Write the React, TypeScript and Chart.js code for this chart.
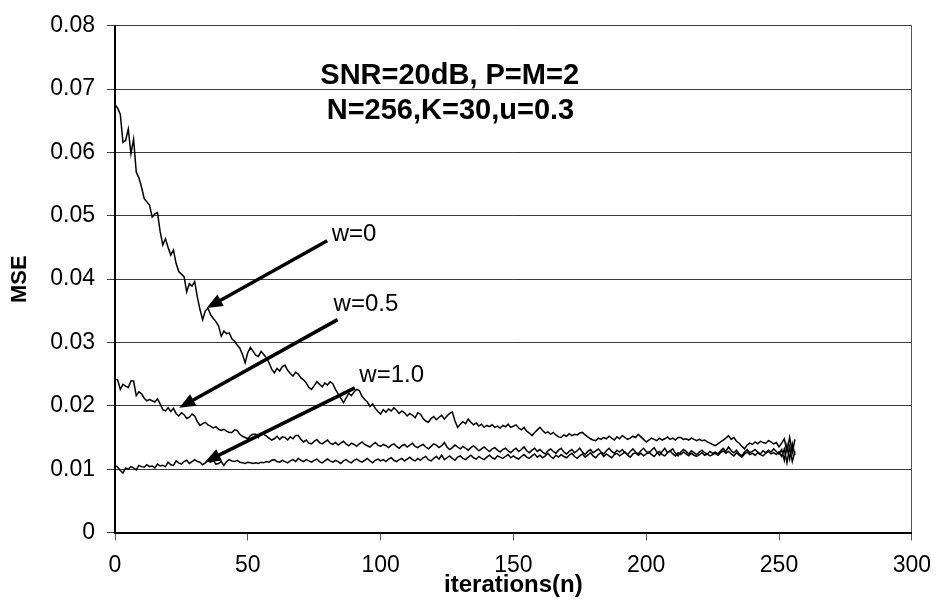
import { useEffect, useRef } from "react";
import { Chart, registerables } from "chart.js";

Chart.register(...registerables);

// iteration index n = 0 .. 256
const iterations: number[] = Array.from({ length: 257 }, (_, i) => i);

const mseW0: number[] = [
  0.0676, 0.0670, 0.0660, 0.0616, 0.0619, 0.0637, 0.0598, 0.0621, 0.0569, 0.0560,
  0.0545, 0.0527, 0.0522, 0.0517, 0.0498, 0.0503, 0.0505, 0.0475, 0.0454, 0.0464,
  0.0450, 0.0438, 0.0446, 0.0425, 0.0412, 0.0408, 0.0404, 0.0380, 0.0393, 0.0389,
  0.0396, 0.0372, 0.0352, 0.0336, 0.0350, 0.0354, 0.0344, 0.0338, 0.0333, 0.0326,
  0.0310, 0.0318, 0.0314, 0.0315, 0.0306, 0.0302, 0.0296, 0.0291, 0.0281, 0.0268,
  0.0284, 0.0292, 0.0286, 0.0280, 0.0278, 0.0286, 0.0281, 0.0276, 0.0268, 0.0258,
  0.0252, 0.0259, 0.0255, 0.0262, 0.0264, 0.0256, 0.0251, 0.0247, 0.0253, 0.0250,
  0.0244, 0.0241, 0.0236, 0.0229, 0.0226, 0.0232, 0.0238, 0.0234, 0.0230, 0.0236,
  0.0233, 0.0238, 0.0235, 0.0226, 0.0219, 0.0212, 0.0205, 0.0212, 0.0220, 0.0216,
  0.0222, 0.0226, 0.0224, 0.0215, 0.0210, 0.0206, 0.0199, 0.0203, 0.0196, 0.0191,
  0.0187, 0.0194, 0.0190, 0.0195, 0.0192, 0.0197, 0.0193, 0.0188, 0.0192, 0.0189,
  0.0184, 0.0188, 0.0185, 0.0181, 0.0189, 0.0187, 0.0180, 0.0176, 0.0174, 0.0180,
  0.0183, 0.0178, 0.0182, 0.0185, 0.0179, 0.0184, 0.0188, 0.0190, 0.0176, 0.0166,
  0.0171, 0.0175, 0.0172, 0.0179, 0.0174, 0.0170, 0.0173, 0.0168, 0.0171, 0.0166,
  0.0169, 0.0167, 0.0170, 0.0166, 0.0168, 0.0165, 0.0169, 0.0167, 0.0171, 0.0166,
  0.0168, 0.0170, 0.0165, 0.0162, 0.0166, 0.0160, 0.0157, 0.0153, 0.0158, 0.0162,
  0.0166, 0.0161, 0.0157, 0.0159, 0.0155, 0.0158, 0.0154, 0.0151, 0.0150, 0.0154,
  0.0152, 0.0156, 0.0153, 0.0155, 0.0154, 0.0157, 0.0158, 0.0154, 0.0151, 0.0148,
  0.0146, 0.0145, 0.0149, 0.0147, 0.0150, 0.0148, 0.0152, 0.0149, 0.0146, 0.0151,
  0.0148, 0.0153, 0.0150, 0.0147, 0.0149, 0.0152, 0.0150, 0.0155, 0.0151, 0.0147,
  0.0143, 0.0146, 0.0149, 0.0147, 0.0145, 0.0149, 0.0146, 0.0148, 0.0151, 0.0147,
  0.0149, 0.0146, 0.0150, 0.0150, 0.0147, 0.0148, 0.0146, 0.0149, 0.0147, 0.0145,
  0.0147, 0.0145, 0.0146, 0.0143, 0.0141, 0.0139, 0.0137, 0.0140, 0.0143, 0.0146,
  0.0149, 0.0153, 0.0147, 0.0150, 0.0144, 0.0141, 0.0136, 0.0132, 0.0138, 0.0141,
  0.0139, 0.0143, 0.0140, 0.0144, 0.0142, 0.0141, 0.0145, 0.0143, 0.0140, 0.0142,
  0.0135, 0.0141, 0.0148, 0.0128, 0.0150, 0.0126, 0.0147,
];

const mseW05: number[] = [
  0.0242, 0.0241, 0.0226, 0.0234, 0.0231, 0.0229, 0.0239, 0.0239, 0.0216, 0.0222,
  0.0219, 0.0212, 0.0208, 0.0210, 0.0208, 0.0206, 0.0211, 0.0203, 0.0194, 0.0192,
  0.0197, 0.0191, 0.0196, 0.0188, 0.0184, 0.0189, 0.0186, 0.0180, 0.0182, 0.0187,
  0.0184, 0.0175, 0.0169, 0.0172, 0.0174, 0.0170, 0.0168, 0.0165, 0.0167, 0.0163,
  0.0161, 0.0163, 0.0160, 0.0158, 0.0158, 0.0162, 0.0161, 0.0155, 0.0152, 0.0150,
  0.0148, 0.0153, 0.0155, 0.0155, 0.0150, 0.0156, 0.0155, 0.0152, 0.0149, 0.0146,
  0.0148, 0.0152, 0.0147, 0.0151, 0.0150, 0.0146, 0.0151, 0.0148, 0.0153, 0.0153,
  0.0147, 0.0143, 0.0146, 0.0141, 0.0140, 0.0144, 0.0147, 0.0142, 0.0140, 0.0143,
  0.0146, 0.0141, 0.0139, 0.0142, 0.0138, 0.0141, 0.0144, 0.0140, 0.0137, 0.0141,
  0.0139, 0.0136, 0.0140, 0.0143, 0.0139, 0.0137, 0.0135, 0.0139, 0.0142, 0.0138,
  0.0136, 0.0139, 0.0137, 0.0134, 0.0138, 0.0140, 0.0136, 0.0133, 0.0137, 0.0139,
  0.0135, 0.0138, 0.0141, 0.0136, 0.0134, 0.0137, 0.0139, 0.0135, 0.0132, 0.0136,
  0.0140, 0.0138, 0.0134, 0.0137, 0.0142, 0.0135, 0.0131, 0.0134, 0.0138, 0.0135,
  0.0132, 0.0136, 0.0133, 0.0130, 0.0134, 0.0137, 0.0133, 0.0129, 0.0132, 0.0135,
  0.0131, 0.0128, 0.0132, 0.0134, 0.0130, 0.0127, 0.0131, 0.0133, 0.0129, 0.0126,
  0.0130, 0.0133, 0.0128, 0.0131, 0.0135, 0.0129, 0.0126, 0.0130, 0.0133, 0.0128,
  0.0131, 0.0127, 0.0124, 0.0129, 0.0132, 0.0128, 0.0125, 0.0130, 0.0133, 0.0127,
  0.0124, 0.0128, 0.0131, 0.0126, 0.0129, 0.0133, 0.0127, 0.0123, 0.0128, 0.0131,
  0.0126, 0.0129, 0.0132, 0.0127, 0.0124, 0.0129, 0.0133, 0.0128, 0.0125, 0.0130,
  0.0127, 0.0131, 0.0126, 0.0123, 0.0128, 0.0132, 0.0127, 0.0124, 0.0129, 0.0133,
  0.0128, 0.0125, 0.0130, 0.0134, 0.0127, 0.0122, 0.0128, 0.0133, 0.0126, 0.0129,
  0.0132, 0.0125, 0.0121, 0.0127, 0.0131, 0.0128, 0.0124, 0.0129, 0.0126, 0.0123,
  0.0127, 0.0130, 0.0126, 0.0124, 0.0128, 0.0125, 0.0127, 0.0124, 0.0129, 0.0133,
  0.0128, 0.0135, 0.0129, 0.0126, 0.0130, 0.0124, 0.0121, 0.0127, 0.0131, 0.0126,
  0.0128, 0.0131, 0.0127, 0.0124, 0.0129, 0.0126, 0.0130, 0.0127, 0.0132, 0.0128,
  0.0124, 0.0131, 0.0114, 0.0138, 0.0116, 0.0140, 0.0122,
];

const mseW10: number[] = [
  0.0106, 0.0103, 0.0098, 0.0094, 0.0102, 0.0100, 0.0104, 0.0102, 0.0099, 0.0106,
  0.0104, 0.0103, 0.0107, 0.0104, 0.0105, 0.0102, 0.0108, 0.0105, 0.0106, 0.0104,
  0.0111, 0.0107, 0.0106, 0.0113, 0.0110, 0.0108, 0.0112, 0.0114, 0.0109, 0.0112,
  0.0115, 0.0112, 0.0111, 0.0107, 0.0110, 0.0113, 0.0111, 0.0114, 0.0108, 0.0109,
  0.0112, 0.0106, 0.0112, 0.0115, 0.0113, 0.0112, 0.0114, 0.0111, 0.0110, 0.0109,
  0.0111, 0.0110, 0.0109, 0.0110, 0.0109, 0.0111, 0.0110, 0.0112, 0.0111, 0.0114,
  0.0115, 0.0112, 0.0111, 0.0114, 0.0112, 0.0110, 0.0113, 0.0115, 0.0112, 0.0117,
  0.0114, 0.0112, 0.0115, 0.0113, 0.0111, 0.0114, 0.0116, 0.0112, 0.0110, 0.0113,
  0.0116, 0.0113, 0.0111, 0.0114, 0.0112, 0.0109, 0.0113, 0.0115, 0.0112, 0.0110,
  0.0114, 0.0116, 0.0113, 0.0111, 0.0114, 0.0117, 0.0113, 0.0110, 0.0114, 0.0116,
  0.0113, 0.0115, 0.0112, 0.0116, 0.0118, 0.0114, 0.0112, 0.0115, 0.0117, 0.0113,
  0.0116, 0.0119, 0.0115, 0.0113, 0.0117, 0.0114, 0.0118, 0.0120, 0.0115, 0.0113,
  0.0117, 0.0120, 0.0116, 0.0122, 0.0115, 0.0118, 0.0121, 0.0117, 0.0114, 0.0119,
  0.0121, 0.0117, 0.0115, 0.0119, 0.0122, 0.0118, 0.0116, 0.0120, 0.0117, 0.0115,
  0.0119, 0.0122, 0.0118, 0.0116, 0.0121, 0.0119, 0.0117, 0.0120, 0.0123, 0.0118,
  0.0121, 0.0118, 0.0116, 0.0120, 0.0123, 0.0119, 0.0117, 0.0121, 0.0124, 0.0119,
  0.0122, 0.0118, 0.0121, 0.0125, 0.0120, 0.0117, 0.0122, 0.0119, 0.0123, 0.0120,
  0.0118, 0.0122, 0.0125, 0.0120, 0.0117, 0.0121, 0.0124, 0.0119, 0.0122, 0.0126,
  0.0121, 0.0118, 0.0123, 0.0126, 0.0120, 0.0124, 0.0121, 0.0118, 0.0123, 0.0125,
  0.0121, 0.0124, 0.0127, 0.0122, 0.0119, 0.0124, 0.0126, 0.0122, 0.0125, 0.0121,
  0.0124, 0.0127, 0.0123, 0.0120, 0.0125, 0.0128, 0.0123, 0.0121, 0.0126, 0.0129,
  0.0124, 0.0121, 0.0126, 0.0123, 0.0127, 0.0124, 0.0121, 0.0125, 0.0122, 0.0120,
  0.0123, 0.0126, 0.0122, 0.0124, 0.0121, 0.0123, 0.0125, 0.0122, 0.0126, 0.0129,
  0.0125, 0.0128, 0.0124, 0.0121, 0.0126, 0.0122, 0.0119, 0.0124, 0.0127, 0.0123,
  0.0125, 0.0122, 0.0126, 0.0123, 0.0121, 0.0125, 0.0128, 0.0124, 0.0126, 0.0123,
  0.0127, 0.0120, 0.0132, 0.0110, 0.0135, 0.0112, 0.0128,
];

const yTickLabels: string[] = ["0", "0.01", "0.02", "0.03", "0.04", "0.05", "0.06", "0.07", "0.08"];
const xTickLabels: string[] = ["0", "50", "100", "150", "200", "250", "300"];

const titleLines: string[] = ["SNR=20dB, P=M=2", "N=256,K=30,u=0.3"];
const titleX: number[] = [126, 126.3];
const titleY: number[] = [0.0721, 0.0665];

const curveLabels: string[] = ["w=0", "w=0.5", "w=1.0"];
const curveLabelX: number[] = [81.6, 82.3, 92.0];
const curveLabelY: number[] = [0.0470, 0.0360, 0.0248];

// arrows in data coordinates: tail -> head
const arrowFromX: number[] = [79.9, 83.8, 90.3];
const arrowFromY: number[] = [0.04606, 0.03361, 0.02283];
const arrowToX: number[] = [34.5, 24.2, 33.8];
const arrowToY: number[] = [0.03543, 0.01969, 0.01111];

const FONT = "'Liberation Sans', Arial, Helvetica, sans-serif";

const annotationPlugin = {
  id: "annotations",
  afterDatasetsDraw(chart: any) {
    const { ctx } = chart;
    const xs = chart.scales.x;
    const ys = chart.scales.y;
    ctx.save();
    ctx.strokeStyle = "#000";
    ctx.fillStyle = "#000";
    ctx.lineWidth = 3.5;
    ctx.lineCap = "butt";
    for (let i = 0; i < arrowFromX.length; i++) {
      const x1 = xs.getPixelForValue(arrowFromX[i]);
      const y1 = ys.getPixelForValue(arrowFromY[i]);
      const x2 = xs.getPixelForValue(arrowToX[i]);
      const y2 = ys.getPixelForValue(arrowToY[i]);
      const ang = Math.atan2(y2 - y1, x2 - x1);
      const headLen = 16;
      const headW = 6.5;
      const bx = x2 - headLen * Math.cos(ang);
      const by = y2 - headLen * Math.sin(ang);
      ctx.beginPath();
      ctx.moveTo(x1, y1);
      ctx.lineTo(bx + 2 * Math.cos(ang), by + 2 * Math.sin(ang));
      ctx.stroke();
      const px = -Math.sin(ang);
      const py = Math.cos(ang);
      ctx.beginPath();
      ctx.moveTo(x2, y2);
      ctx.lineTo(bx + headW * px, by + headW * py);
      ctx.lineTo(bx - headW * px, by - headW * py);
      ctx.closePath();
      ctx.fill();
    }
    ctx.textBaseline = "middle";
    ctx.textAlign = "center";
    ctx.font = `bold 29px ${FONT}`;
    for (let i = 0; i < titleLines.length; i++) {
      ctx.fillText(titleLines[i], xs.getPixelForValue(titleX[i]), ys.getPixelForValue(titleY[i]));
    }
    ctx.textAlign = "left";
    ctx.font = `24px ${FONT}`;
    for (let i = 0; i < curveLabels.length; i++) {
      ctx.fillText(curveLabels[i], xs.getPixelForValue(curveLabelX[i]), ys.getPixelForValue(curveLabelY[i]));
    }
    ctx.restore();
  },
};

export default function App() {
  const canvasRef = useRef<HTMLCanvasElement | null>(null);

  useEffect(() => {
    if (!canvasRef.current) return;
    const lineStyle = {
      borderColor: "#000",
      borderWidth: 1.5,
      pointRadius: 0,
      tension: 0,
      fill: false,
    };
    const chart = new Chart(canvasRef.current, {
      type: "line",
      data: {
        labels: iterations,
        datasets: [
          { label: "w=0", data: mseW0, ...lineStyle },
          { label: "w=0.5", data: mseW05, ...lineStyle },
          { label: "w=1.0", data: mseW10, ...lineStyle },
        ],
      },
      options: {
        animation: false,
        responsive: true,
        maintainAspectRatio: false,
        layout: { padding: { top: 23, right: 25.5, left: 0, bottom: 0 } },
        plugins: {
          legend: { display: false },
          tooltip: { enabled: false },
        },
        scales: {
          x: {
            type: "linear",
            min: 0,
            max: 300,
            afterFit: (scale: any) => {
              scale.height = 68.5;
            },
            ticks: {
              stepSize: 50,
              padding: 11,
              color: "#000",
              font: { family: FONT, size: 23 },
              maxRotation: 0,
              callback: (_v: any, i: number) => xTickLabels[i],
            },
            grid: {
              drawOnChartArea: true,
              color: (c: any) => (c.tick && c.tick.value === 300 ? "#555" : "rgba(0,0,0,0)"),
              tickColor: "#555",
              tickLength: 8,
              lineWidth: 1,
            },
            border: { display: true, color: "#000", width: 2 },
            title: {
              display: true,
              text: "iterations(n)",
              color: "#000",
              font: { family: FONT, size: 24, weight: "bold" },
              padding: { top: 0, bottom: 1 },
            },
          },
          y: {
            min: 0,
            max: 0.08,
            afterFit: (scale: any) => {
              scale.width = 115;
            },
            ticks: {
              stepSize: 0.01,
              padding: 12,
              color: "#000",
              font: { family: FONT, size: 23 },
              callback: (_v: any, i: number) => yTickLabels[i],
            },
            grid: {
              color: "#3a3a3a",
              tickColor: "#3a3a3a",
              tickLength: 8,
              lineWidth: 1,
            },
            border: { display: true, color: "#000", width: 2 },
            title: {
              display: true,
              text: "MSE",
              color: "#000",
              font: { family: FONT, size: 22, weight: "bold" },
              padding: { top: 7, bottom: 0 },
            },
          },
        },
      },
      plugins: [annotationPlugin],
    });
    return () => chart.destroy();
  }, []);

  return (
    <div style={{ position: "fixed", left: 0, top: 0, width: 942, height: 601, background: "#fff" }}>
      <canvas ref={canvasRef} />
    </div>
  );
}
